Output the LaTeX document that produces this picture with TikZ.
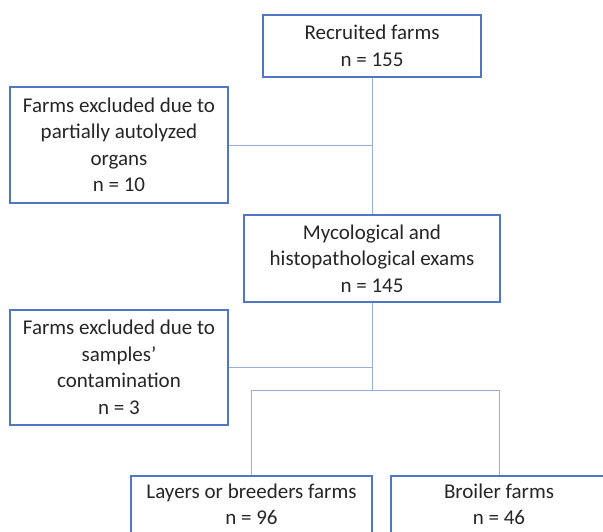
\documentclass[tikz,border=0pt]{standalone}
\usepackage{fontspec}
\setmainfont{Carlito}
\definecolor{boxblue}{HTML}{4F77C4}
\definecolor{lineblue}{HTML}{95AEDD}
\begin{document}
\begin{tikzpicture}[x=1pt,y=-1pt,
  box/.style={draw=boxblue, line width=1.3pt, fill=white, rectangle, inner sep=0pt,
    align=center, font=\fontsize{21}{26.5}\selectfont, text=black!85},
  txt/.style={inner sep=0pt, align=center, font=\fontsize{21}{26}\selectfont, text=black!85},
  conn/.style={draw=lineblue, line width=1pt}]
\fill[white] (0,0) rectangle (603,531);
\useasboundingbox (0,0) rectangle (603,531);
\clip (0,0) rectangle (603,531);
\node[box, minimum width=218pt, minimum height=62pt] (rec) at (372,46) {Recruited farms\\n = 155};
\node[box, minimum width=218pt, minimum height=116pt] (exc1) at (119,145) {Farms excluded due to\\partially autolyzed\\organs\\n = 10};
\node[box, minimum width=256pt, minimum height=87pt] (myc) at (372,258.5) {Mycological and\\histopathological exams\\n = 145};
\node[box, minimum width=218pt, minimum height=115pt] (exc2) at (119,367.5) {Farms excluded due to\\samples’\\contamination\\n = 3};
\node[box, minimum width=241pt, minimum height=62pt] (layframe) at (251.5,507) {};
\node[txt] (lay) at (251.5,504.5) {Layers or breeders farms\\n = 96};
\node[box, minimum width=216pt, minimum height=62pt] (broframe) at (499,507) {};
\node[txt] (bro) at (499,504.5) {Broiler farms\\n = 46};
\coordinate (br) at (372,390);
\draw[conn] (rec.south) -- (myc.north);
\draw[conn] (exc1.east) -- (exc1.east -| rec.south);
\draw[conn] (myc.south) -- (br);
\draw[conn] (exc2.east) -- (exc2.east -| br);
\draw[conn] (layframe.north) -- (layframe.north |- br) -- (broframe.north |- br) -- (broframe.north);
\end{tikzpicture}
\end{document}
